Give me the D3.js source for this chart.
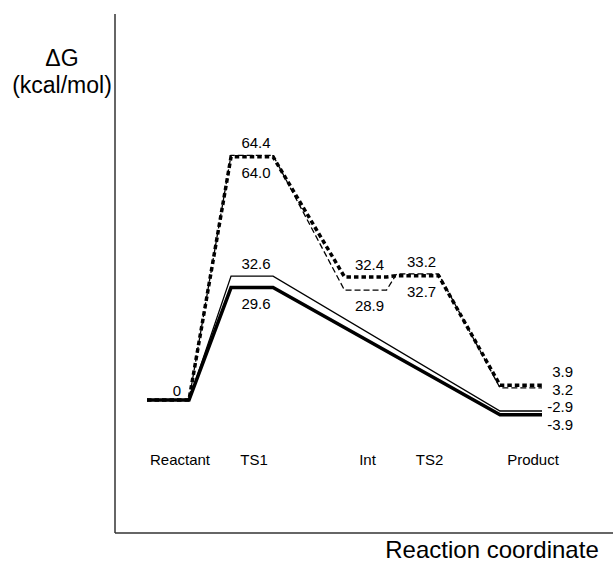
<!DOCTYPE html>
<html>
<head>
<meta charset="utf-8">
<script src="https://cdn.jsdelivr.net/npm/d3@7"></script>
<style>
  body { margin: 0; background: #fff; }
  text { font-family: "Liberation Sans", Arial, sans-serif; fill: #000; }
</style>
</head>
<body>
<div id="energyChart"></div>
<script>
// states along the reaction coordinate
const states = ["Reactant", "TS1", "Int", "TS2", "Product"];
const stateCoord = [0, 1, 2.35, 2.97, 4.2];

// free energies (kcal/mol), null = state not on that pathway
const thickSolid = [0, 29.6, null, null, -3.9];
const thinSolid = [0, 32.6, null, null, -2.9];
const thickDotted = [0, 64.0, 32.4, 32.7, 3.9];
const thinDashed = [0, 64.4, 28.9, 33.2, 3.2];

const width = 613;
const height = 563;
const halfLevel = 21; // half length of each energy level

const svg = d3.select("#energyChart")
    .append("svg")
    .attr("width", width)
    .attr("height", height);

const xScale = d3.scaleLinear()
    .domain([0, 4.2])
    .range([168, 521]);

const yScale = d3.scaleLinear()
    .domain([-10, 70])
    .range([438, 134]);

// axes frame
svg.append("line")
    .attr("x1", 115).attr("x2", 115)
    .attr("y1", 14).attr("y2", 533)
    .attr("stroke", "#333").attr("stroke-width", 1.5);
svg.append("line")
    .attr("x1", 115).attr("x2", width)
    .attr("y1", 533).attr("y2", 533)
    .attr("stroke", "#333").attr("stroke-width", 1.5);

svg.append("text")
    .attr("x", 62).attr("y", 66)
    .attr("text-anchor", "middle")
    .style("font-size", "23px")
    .text("\u0394G");
svg.append("text")
    .attr("x", 62).attr("y", 93)
    .attr("text-anchor", "middle")
    .style("font-size", "23px")
    .text("(kcal/mol)");
svg.append("text")
    .attr("x", 492).attr("y", 558)
    .attr("text-anchor", "middle")
    .style("font-size", "24px")
    .text("Reaction coordinate");

// each series with its style and where its numbers go (above / below the level)
const series = [
    { values: thinDashed, width: 1.3, dash: "6,3", place: [null, "above", "below", "above", "right"], dyRight: 7 },
    { values: thickDotted, width: 3.5, dash: "4.5,3", place: [null, "below", "above", "below", "right"], dyRight: -8 },
    { values: thinSolid, width: 1.3, dash: null, place: [null, "above", null, null, "right"], dyRight: 1 },
    { values: thickSolid, width: 3.5, dash: null, place: [null, "below", null, null, "right"], dyRight: 15 },
];

const line = d3.line()
    .x(d => d.x)
    .y(d => d.y);

series.forEach(s => {
    const pts = [];
    s.values.forEach((v, i) => {
        if (v === null) return;
        const cx = xScale(stateCoord[i]);
        pts.push({ x: cx - halfLevel, y: yScale(v) });
        pts.push({ x: cx + halfLevel, y: yScale(v) });
    });
    svg.append("path")
        .datum(pts)
        .attr("fill", "none")
        .attr("stroke", "#000")
        .attr("stroke-width", s.width)
        .attr("stroke-dasharray", s.dash)
        .attr("stroke-linejoin", "miter")
        .attr("d", line);

    s.values.forEach((v, i) => {
        const p = s.place[i];
        if (v === null || p === null) return;
        const cx = xScale(stateCoord[i]);
        const t = svg.append("text")
            .style("font-size", "15px")
            .text(v.toFixed(1));
        if (p === "right") {
            t.attr("x", cx + halfLevel + 31)
                .attr("y", yScale(v) + s.dyRight)
                .attr("text-anchor", "end");
        } else {
            t.attr("x", cx + 4)
                .attr("y", p === "above" ? yScale(v) - 7 : yScale(v) + 21)
                .attr("text-anchor", "middle");
        }
    });
});

// reactant zero
svg.append("text")
    .attr("x", xScale(stateCoord[0]) + 13)
    .attr("y", yScale(0) - 4)
    .attr("text-anchor", "end")
    .style("font-size", "15px")
    .text("0");

// state names
svg.selectAll(".stateLabel")
    .data(states)
    .enter().append("text")
    .attr("class", "stateLabel")
    .attr("x", (d, i) => xScale(stateCoord[i]) + (i === 0 || i >= 3 ? 12 : 2))
    .attr("y", 465)
    .attr("text-anchor", "middle")
    .style("font-size", "15px")
    .text(d => d);
</script>
</body>
</html>
